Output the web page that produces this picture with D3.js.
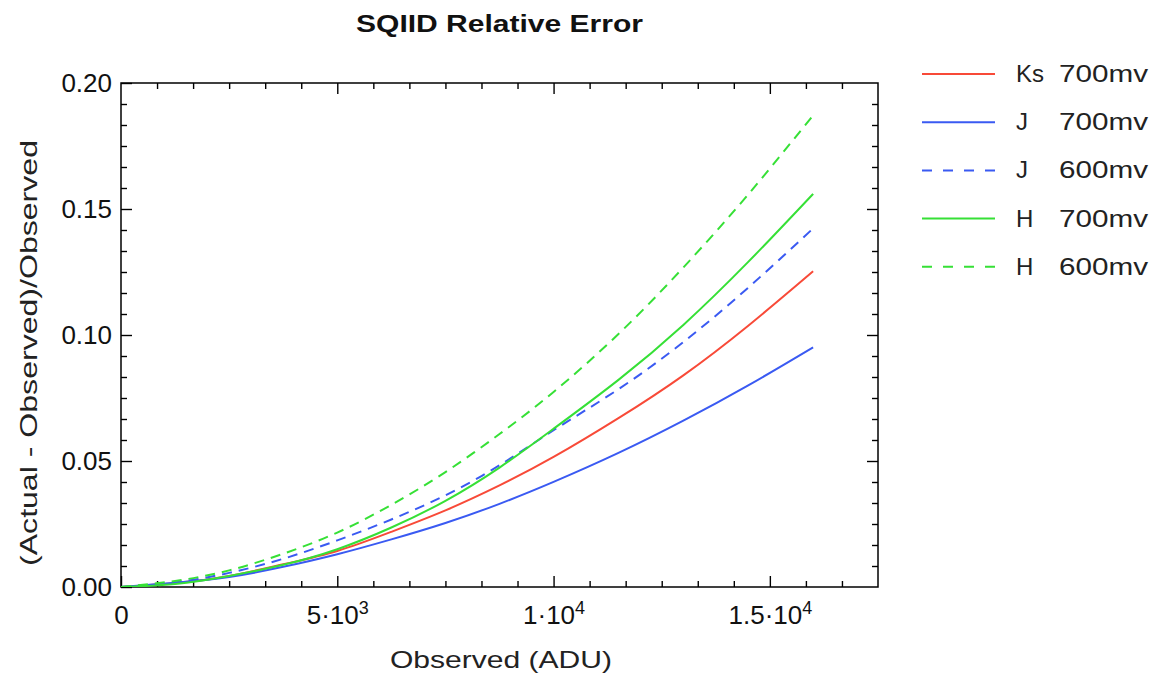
<!DOCTYPE html>
<html><head><meta charset="utf-8">
<script src="https://cdn.jsdelivr.net/npm/d3@7"></script>
<style>
html,body{margin:0;padding:0;background:#fff;}
svg{display:block;font-family:"Liberation Sans",Arial,Helvetica,sans-serif;}
</style></head>
<body><svg id="c" width="1154" height="677"></svg>
<script>
// ---- data ----
const chartTitle = "SQIID Relative Error";
const xLabel = "Observed (ADU)";
const yLabel = "(Actual - Observed)/Observed";
const xObserved = [0,1250,2500,3750,5000,6250,7500,8750,10000,11500,13000,14500,16000];
const ks700 = [0,0.0016,0.0044,0.0090,0.0143,0.0219,0.0304,0.0403,0.0516,0.0670,0.0840,0.1037,0.1253];
const j700  = [0,0.0017,0.0040,0.0080,0.0130,0.0189,0.0254,0.0330,0.0417,0.0532,0.0660,0.0800,0.0951];
const j600  = [0,0.0018,0.0056,0.0112,0.0185,0.0268,0.0364,0.0483,0.0622,0.0785,0.0972,0.1188,0.1423];
const h700  = [0,0.0012,0.0044,0.0088,0.0150,0.0236,0.0342,0.0474,0.0628,0.0822,0.1040,0.1290,0.1560];
const h600  = [0,0.0024,0.0066,0.0132,0.0216,0.0326,0.0456,0.0607,0.0774,0.1004,0.1268,0.1558,0.1872];
const seriesBands = ["Ks","J","J","H","H"];
const seriesVolts = ["700mv","700mv","600mv","700mv","600mv"];
const seriesValues = [ks700, j700, j600, h700, h600];
const seriesColors = ["#f84a38","#3a5af2","#3a5af2","#36e036","#36e036"];
const seriesDashed = [false,false,true,false,true];
const xDomain = [0,17500];
const yDomain = [0,0.20];
const xMajorTicks = [0,5000,10000,15000];
const xTickMantissa = ["0","5","1","1.5"];
const xTickExponent = ["","3","4","4"];
const yMajorTicks = [0,0.05,0.10,0.15,0.20];
const yTickLabels = ["0.00","0.05","0.10","0.15","0.20"];
const minorPerMajor = 6;

// ---- layout ----
const L = 121, R = 878, T = 83, B = 587;
const svg = d3.select("#c");
const x = d3.scaleLinear().domain(xDomain).range([L, R]);
const y = d3.scaleLinear().domain(yDomain).range([B, T]);

const xStep = (xMajorTicks[1]-xMajorTicks[0])/minorPerMajor;
const xMinor = d3.range(0, Math.round((xDomain[1]-xDomain[0])/xStep)+1).map(i => xDomain[0]+i*xStep)
  .filter(v => !xMajorTicks.some(m => Math.abs(m-v) < 1e-6) && v > xDomain[0] && v < xDomain[1]);
const yStep = (yMajorTicks[1]-yMajorTicks[0])/minorPerMajor;
const yMinor = d3.range(0, Math.round((yDomain[1]-yDomain[0])/yStep)+1).map(i => yDomain[0]+i*yStep)
  .filter(v => !yMajorTicks.some(m => Math.abs(m-v) < 1e-9) && v > yDomain[0]+1e-9 && v < yDomain[1]-1e-9);

const MAJ = 11, MIN = 6;
function styleAxis(g){
  g.selectAll("path.domain").remove();
  g.selectAll(".tick line").attr("stroke","#000").attr("stroke-width",1.4);
}
// bottom
svg.append("g").attr("transform",`translate(0,${B})`)
  .call(d3.axisBottom(x).tickValues(xMinor).tickSize(-MIN).tickFormat("")).call(styleAxis);
const gxb = svg.append("g").attr("transform",`translate(0,${B})`)
  .call(d3.axisBottom(x).tickValues(xMajorTicks).tickSize(-MAJ).tickFormat("")).call(styleAxis);
// top
svg.append("g").attr("transform",`translate(0,${T})`)
  .call(d3.axisTop(x).tickValues(xMinor).tickSize(-MIN).tickFormat("")).call(styleAxis);
svg.append("g").attr("transform",`translate(0,${T})`)
  .call(d3.axisTop(x).tickValues(xMajorTicks.filter(v=>v>xDomain[0])).tickSize(-MAJ).tickFormat("")).call(styleAxis);
// left
svg.append("g").attr("transform",`translate(${L},0)`)
  .call(d3.axisLeft(y).tickValues(yMinor).tickSize(-MIN).tickFormat("")).call(styleAxis);
const gyl = svg.append("g").attr("transform",`translate(${L},0)`)
  .call(d3.axisLeft(y).tickValues(yMajorTicks).tickSize(-MAJ).tickFormat((d,i)=>yTickLabels[i])).call(styleAxis);
// right
svg.append("g").attr("transform",`translate(${R},0)`)
  .call(d3.axisRight(y).tickValues(yMinor).tickSize(-MIN).tickFormat("")).call(styleAxis);
svg.append("g").attr("transform",`translate(${R},0)`)
  .call(d3.axisRight(y).tickValues(yMajorTicks.filter(v=>v>yDomain[0] && v<yDomain[1])).tickSize(-MAJ).tickFormat("")).call(styleAxis);

gyl.selectAll(".tick text").attr("x",-9).attr("dy","0.32em")
  .attr("font-size",26).attr("fill","#111").attr("font-family",null);

// x tick labels with superscripts
gxb.selectAll(".tick").each(function(d,i){
  const t = d3.select(this).append("text").attr("y",37).attr("fill","#111")
    .attr("text-anchor","middle").attr("font-size",26);
  if (xTickExponent[i] === "") { t.text(xTickMantissa[i]); }
  else {
    t.append("tspan").text(xTickMantissa[i] + "\u00B710");
    t.append("tspan").attr("dy",-10).attr("font-size",18).text(xTickExponent[i]);
  }
});

// frame
svg.append("rect").attr("x",L).attr("y",T).attr("width",R-L).attr("height",B-T)
  .attr("fill","none").attr("stroke","#000").attr("stroke-width",1.5);

// curves
const line = d3.line().x((d,i)=>x(xObserved[i])).y(d=>y(d)).curve(d3.curveNatural);
svg.append("clipPath").attr("id","pc").append("rect")
  .attr("x",L).attr("y",T).attr("width",R-L).attr("height",B-T);
svg.append("g").attr("clip-path","url(#pc)").selectAll("path").data(seriesValues).join("path")
  .attr("d",line).attr("fill","none")
  .attr("stroke",(d,i)=>seriesColors[i]).attr("stroke-width",2)
  .attr("stroke-dasharray",(d,i)=>seriesDashed[i] ? "10,7" : null);

// title & axis labels
svg.append("text").attr("x",499.5).attr("y",32).attr("text-anchor","middle")
  .attr("font-weight","bold").attr("font-size",24).attr("fill","#111")
  .attr("textLength",287).attr("lengthAdjust","spacingAndGlyphs").text(chartTitle);
svg.append("text").attr("x",501).attr("y",668).attr("text-anchor","middle")
  .attr("font-size",24).attr("fill","#222")
  .attr("textLength",222).attr("lengthAdjust","spacingAndGlyphs").text(xLabel);
svg.append("text").attr("transform","translate(37,353) rotate(-90)").attr("text-anchor","middle")
  .attr("font-size",24).attr("fill","#222")
  .attr("textLength",426).attr("lengthAdjust","spacingAndGlyphs").text(yLabel);

// legend
const legY0 = 74, legDy = 48.2;
const leg = svg.append("g").selectAll("g").data(seriesBands).join("g")
  .attr("transform",(d,i)=>`translate(0,${legY0 + i*legDy})`);
leg.append("line").attr("x1",922).attr("x2",995).attr("y1",0).attr("y2",0)
  .attr("stroke",(d,i)=>seriesColors[i]).attr("stroke-width",2)
  .attr("stroke-dasharray",(d,i)=>seriesDashed[i] ? "10,11" : null);
const lt = leg.append("text").attr("y",8).attr("font-size",24).attr("fill","#222");
lt.append("tspan").attr("x",1016).text(d=>d + " ");
lt.append("tspan").attr("x",1148).attr("text-anchor","end")
  .attr("textLength",89).attr("lengthAdjust","spacingAndGlyphs").text((d,i)=>seriesVolts[i]);
</script></body></html>
